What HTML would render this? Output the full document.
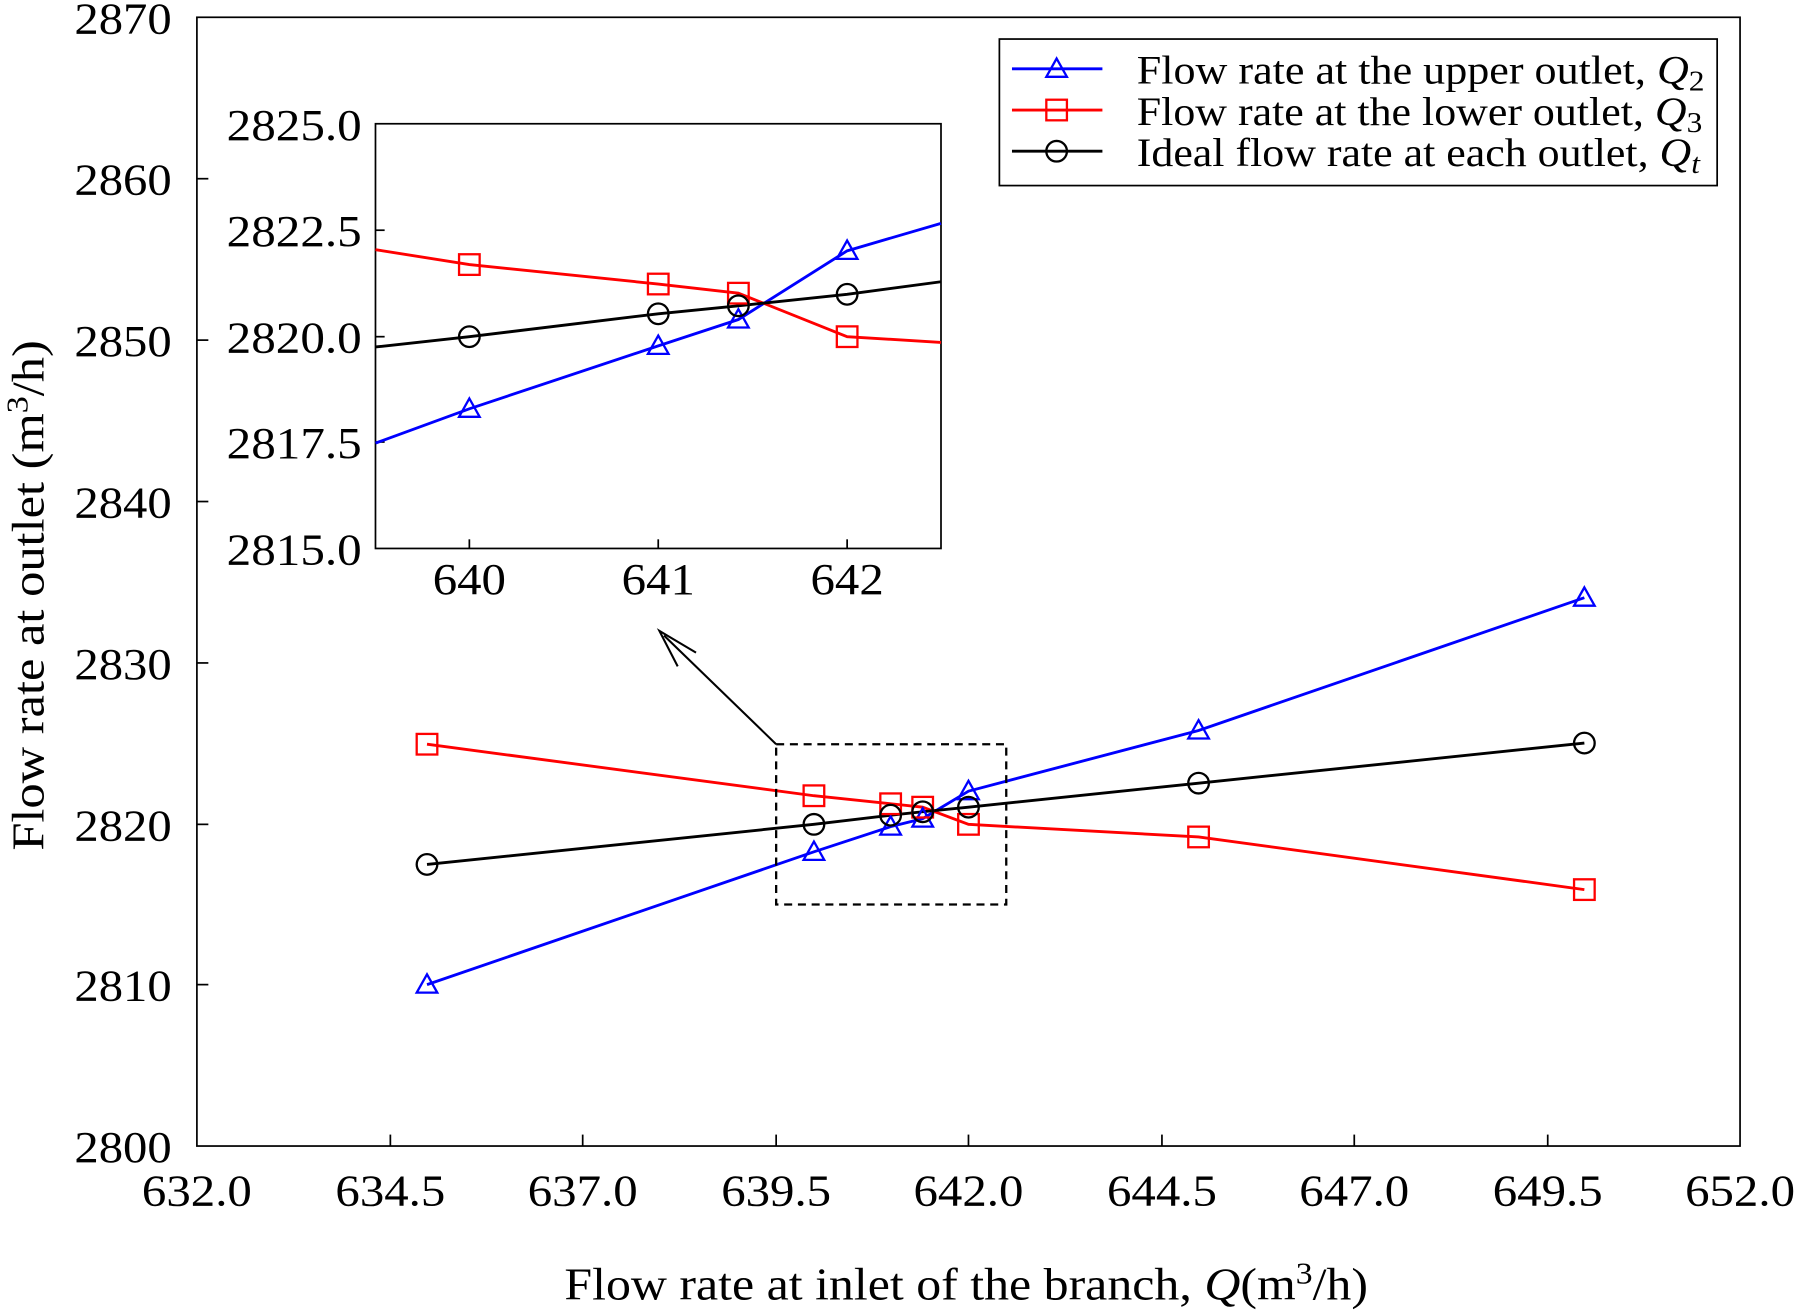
<!DOCTYPE html>
<html><head><meta charset="utf-8"><style>
html,body{margin:0;padding:0;background:#fff;}
svg{display:block;}
text{font-family:"Liberation Serif",serif;fill:#000;}
</style></head><body>
<svg width="1795" height="1311" viewBox="0 0 1568 1145" xmlns="http://www.w3.org/2000/svg">
<defs>
<g id="tri"><polygon points="0,-9 9,7 -9,7" fill="none" stroke="#00f" stroke-width="2"/></g>
<g id="sq"><rect x="-9" y="-9" width="18" height="18" fill="none" stroke="#f00" stroke-width="2"/></g>
<g id="cir"><circle r="9" fill="none" stroke="#000" stroke-width="2"/></g>
</defs>
<rect x="172" y="15" width="1348" height="986" fill="none" stroke="#000" stroke-width="1.5"/>
<g stroke="#000" stroke-width="1.5">
<line x1="172" y1="156" x2="182" y2="156"/><line x1="172" y1="297" x2="182" y2="297"/>
<line x1="172" y1="438" x2="182" y2="438"/><line x1="172" y1="579" x2="182" y2="579"/>
<line x1="172" y1="720" x2="182" y2="720"/><line x1="172" y1="860" x2="182" y2="860"/>
<line x1="341" y1="1001" x2="341" y2="991"/><line x1="509" y1="1001" x2="509" y2="991"/>
<line x1="678" y1="1001" x2="678" y2="991"/><line x1="846" y1="1001" x2="846" y2="991"/>
<line x1="1015" y1="1001" x2="1015" y2="991"/><line x1="1183" y1="1001" x2="1183" y2="991"/>
<line x1="1352" y1="1001" x2="1352" y2="991"/>
</g>
<g font-size="39" text-anchor="end">
<text x="150" y="29" textLength="85" lengthAdjust="spacingAndGlyphs">2870</text><text x="150" y="170" textLength="85" lengthAdjust="spacingAndGlyphs">2860</text><text x="150" y="311" textLength="85" lengthAdjust="spacingAndGlyphs">2850</text>
<text x="150" y="452" textLength="85" lengthAdjust="spacingAndGlyphs">2840</text><text x="150" y="593" textLength="85" lengthAdjust="spacingAndGlyphs">2830</text><text x="150" y="734" textLength="85" lengthAdjust="spacingAndGlyphs">2820</text>
<text x="150" y="874" textLength="85" lengthAdjust="spacingAndGlyphs">2810</text><text x="150" y="1015" textLength="85" lengthAdjust="spacingAndGlyphs">2800</text>
</g>
<g font-size="39">
<text x="124" y="1053" textLength="96" lengthAdjust="spacingAndGlyphs">632.0</text><text x="293" y="1053" textLength="96" lengthAdjust="spacingAndGlyphs">634.5</text><text x="461" y="1053" textLength="96" lengthAdjust="spacingAndGlyphs">637.0</text>
<text x="630" y="1053" textLength="96" lengthAdjust="spacingAndGlyphs">639.5</text><text x="798" y="1053" textLength="96" lengthAdjust="spacingAndGlyphs">642.0</text><text x="967" y="1053" textLength="96" lengthAdjust="spacingAndGlyphs">644.5</text>
<text x="1135" y="1053" textLength="96" lengthAdjust="spacingAndGlyphs">647.0</text><text x="1304" y="1053" textLength="96" lengthAdjust="spacingAndGlyphs">649.5</text><text x="1472" y="1053" textLength="96" lengthAdjust="spacingAndGlyphs">652.0</text>
</g>
<text x="493" y="1135" font-size="40" textLength="702" lengthAdjust="spacingAndGlyphs">Flow rate at inlet of the branch, <tspan font-style="italic">Q</tspan>(m<tspan font-size="27" dy="-14">3</tspan><tspan dy="14">/h)</tspan></text>
<text transform="translate(38,743) rotate(-90)" font-size="40" textLength="446" lengthAdjust="spacingAndGlyphs">Flow rate at outlet (m<tspan font-size="27" dy="-14">3</tspan><tspan dy="14">/h)</tspan></text>
<polyline points="373,860 711,744 778,722 806,715 846,691 1047,638 1384,522" fill="none" stroke="#00f" stroke-width="2.5"/>
<polyline points="373,650 711,695 778,702 806,705 846,720 1047,731 1384,777" fill="none" stroke="#f00" stroke-width="2.5"/>
<polyline points="373,755 711,720 778,712 806,709 846,705 1047,684 1384,649" fill="none" stroke="#000" stroke-width="2.5"/>
<use href="#tri" x="373" y="860"/><use href="#tri" x="711" y="744"/><use href="#tri" x="778" y="722"/><use href="#tri" x="806" y="715"/><use href="#tri" x="846" y="691"/><use href="#tri" x="1047" y="638"/><use href="#tri" x="1384" y="522"/>
<use href="#sq" x="373" y="650"/><use href="#sq" x="711" y="695"/><use href="#sq" x="778" y="702"/><use href="#sq" x="806" y="705"/><use href="#sq" x="846" y="720"/><use href="#sq" x="1047" y="731"/><use href="#sq" x="1384" y="777"/>
<use href="#cir" x="373" y="755"/><use href="#cir" x="711" y="720"/><use href="#cir" x="778" y="712"/><use href="#cir" x="806" y="709"/><use href="#cir" x="846" y="705"/><use href="#cir" x="1047" y="684"/><use href="#cir" x="1384" y="649"/>
<rect x="678" y="650" width="201" height="140" fill="none" stroke="#000" stroke-width="2" stroke-dasharray="7,5"/>
<line x1="678" y1="650" x2="580" y2="555" stroke="#000" stroke-width="1.8"/>
<polyline points="608,570 576,551 592,582" fill="none" stroke="#000" stroke-width="1.8"/>
<rect x="328" y="108" width="494" height="371" fill="#fff" stroke="#000" stroke-width="1.5"/>
<g stroke="#000" stroke-width="1.5">
<line x1="328" y1="201" x2="336" y2="201"/><line x1="328" y1="294" x2="336" y2="294"/><line x1="328" y1="386" x2="336" y2="386"/>
<line x1="410" y1="479" x2="410" y2="471"/><line x1="575" y1="479" x2="575" y2="471"/><line x1="740" y1="479" x2="740" y2="471"/>
</g>
<g font-size="39" text-anchor="end">
<text x="316" y="122" textLength="118" lengthAdjust="spacingAndGlyphs">2825.0</text><text x="316" y="215" textLength="118" lengthAdjust="spacingAndGlyphs">2822.5</text><text x="316" y="308" textLength="118" lengthAdjust="spacingAndGlyphs">2820.0</text>
<text x="316" y="400" textLength="118" lengthAdjust="spacingAndGlyphs">2817.5</text><text x="316" y="493" textLength="118" lengthAdjust="spacingAndGlyphs">2815.0</text>
</g>
<g font-size="39">
<text x="378" y="519" textLength="64" lengthAdjust="spacingAndGlyphs">640</text><text x="543" y="519" textLength="64" lengthAdjust="spacingAndGlyphs">641</text><text x="708" y="519" textLength="64" lengthAdjust="spacingAndGlyphs">642</text>
</g>
<polyline points="328,387 410,357 575,302 645,279 740,219 822,195" fill="none" stroke="#00f" stroke-width="2.5"/>
<polyline points="328,218 410,231 575,248 645,256 740,294 822,299" fill="none" stroke="#f00" stroke-width="2.5"/>
<polyline points="328,303 410,294 575,274 645,267 740,257 822,246" fill="none" stroke="#000" stroke-width="2.5"/>
<use href="#tri" x="410" y="357"/><use href="#tri" x="575" y="302"/><use href="#tri" x="645" y="279"/><use href="#tri" x="740" y="219"/>
<use href="#sq" x="410" y="231"/><use href="#sq" x="575" y="248"/><use href="#sq" x="645" y="256"/><use href="#sq" x="740" y="294"/>
<use href="#cir" x="410" y="294"/><use href="#cir" x="575" y="274"/><use href="#cir" x="645" y="267"/><use href="#cir" x="740" y="257"/>
<rect x="873" y="34" width="627" height="128" fill="#fff" stroke="#000" stroke-width="1.5"/>
<line x1="884" y1="60" x2="963" y2="60" stroke="#00f" stroke-width="2.5"/><use href="#tri" x="923" y="60"/>
<line x1="884" y1="96" x2="963" y2="96" stroke="#f00" stroke-width="2.5"/><use href="#sq" x="923" y="96"/>
<line x1="884" y1="132" x2="963" y2="132" stroke="#000" stroke-width="2.5"/><use href="#cir" x="923" y="132"/>
<g font-size="35">
<text x="993" y="73" textLength="496" lengthAdjust="spacingAndGlyphs">Flow rate at the upper outlet, <tspan font-style="italic">Q</tspan><tspan font-size="25" dy="6">2</tspan></text>
<text x="993" y="109" textLength="494" lengthAdjust="spacingAndGlyphs">Flow rate at the lower outlet, <tspan font-style="italic">Q</tspan><tspan font-size="25" dy="6">3</tspan></text>
<text x="993" y="145" textLength="492" lengthAdjust="spacingAndGlyphs">Ideal flow rate at each outlet, <tspan font-style="italic">Q</tspan><tspan font-size="25" dy="6" font-style="italic">t</tspan></text>
</g>
</svg>
</body></html>
